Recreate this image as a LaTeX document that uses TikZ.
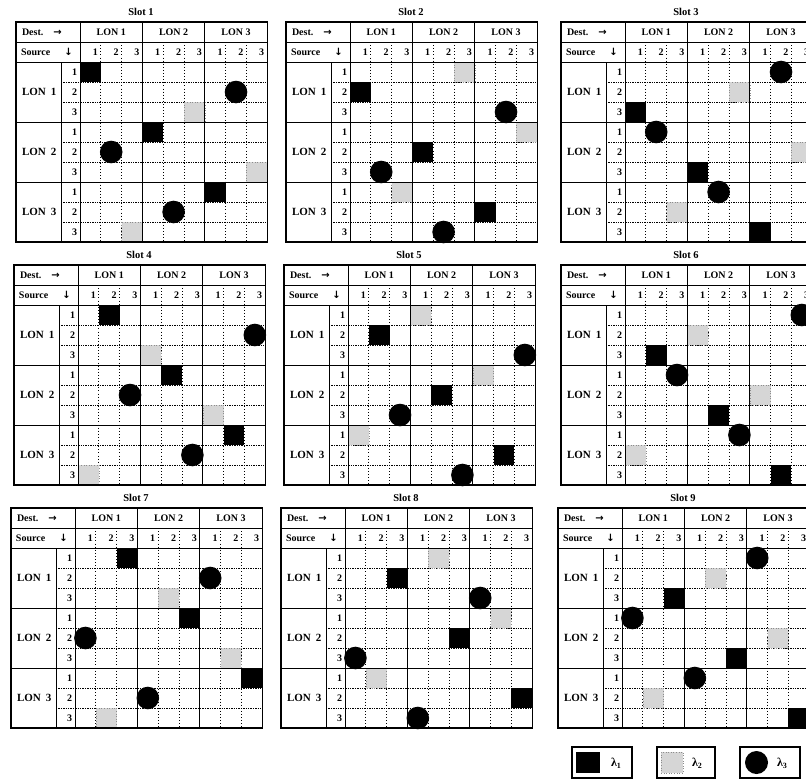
\documentclass[tikz,border=0pt]{standalone}
\usepackage{fontspec}
\setmainfont{Liberation Serif}
\newfontfamily\arrowfont{DejaVu Sans}
\newcommand\slottab[6]{%
\begin{scope}[shift={(#1,#2)}]
  \node[ttl] (t#3) at (125,-10) {Slot #3};
  \foreach \yy in {60,80,120,140,180,200} \draw[hdot] (45,\yy) -- (251.2,\yy);
  \foreach \k in {1,2,4,5,7,8} \draw[vdot] ({64+\k*20.8},20) -- ({64+\k*20.8},220);
  \foreach \r/\c in {#4} \fill[sqmark] ({64+\c*20.8},{40+\r*20}) rectangle ++(20.8,20);
  \foreach \r/\c in {#5} \draw[dtmark] ({64+\c*20.8},{40+\r*20}) rectangle ++(20.8,20);
  \foreach \r/\c in {#6} \fill[cimark] ({74.4+\c*20.8},{50+\r*20}) circle[radius=11.3pt];
  \draw[solidln] (0,20) -- (251.2,20);
  \draw[solidln] (0,40) -- (251.2,40);
  \draw[solidln] (0,100) -- (251.2,100);
  \draw[solidln] (0,160) -- (251.2,160);
  \draw[solidln] (45,40) -- (45,220);
  \draw[solidln] (64,0) -- (64,220);
  \draw[solidln] (126.4,0) -- (126.4,220);
  \draw[solidln] (188.8,0) -- (188.8,220);
  \draw[outerln] (0,0) rectangle (251.2,220);
  \node[tx, anchor=west] (d#3) at (6,10) {Dest.\hspace{10pt}{\arrowfont\bfseries →}};
  \node[tx, anchor=west] (s#3) at (5,30) {Source\hspace{14pt}{\arrowfont\bfseries ↓}};
  \foreach \g in {1,2,3} \node[tx] (h#3-\g) at ({64+(3*\g-1.5)*20.8},10) {LON \g};
  \foreach \k in {0,...,8} {\pgfmathtruncatemacro\n{mod(\k,3)+1}
    \node[tx,anchor=east] (c#3-\k) at ({64+(\k+1)*20.8-3},30) {\n};}
  \foreach \k in {0,...,8} {\pgfmathtruncatemacro\n{mod(\k,3)+1}
    \node[tx,anchor=east] (r#3-\k) at (61,{50+\k*20}) {\n};}
  \foreach \g in {1,2,3} \node[lbl] (l#3-\g) at (6,{50+(3*\g-2)*20}) {LON\hspace{5pt}\g};
\end{scope}}
\begin{document}
\begin{tikzpicture}[x=1pt,y=-1pt,
  every node/.style={inner sep=0pt, outer sep=0pt},
  ttl/.style={font=\fontsize{10.5}{12}\selectfont\bfseries},
  tx/.style={font=\fontsize{10}{11}\selectfont\bfseries},
  lgt/.style={font=\fontsize{12}{14}\selectfont\bfseries, anchor=west},
  lbl/.style={font=\fontsize{11}{12}\selectfont\bfseries, anchor=west},
  solidln/.style={line width=0.9pt},
  outerln/.style={line width=1.4pt},
  hdot/.style={line width=0.9pt, dash pattern=on 1.3pt off 1.1pt},
  vdot/.style={line width=0.9pt, dash pattern=on 0.9pt off 2.2pt},
  sqmark/.style={fill=black},
  dtmark/.style={fill=black!16, draw=black!45, dotted, line width=0.6pt},
  cimark/.style={fill=black},
  legbox/.style={draw, line width=1.4pt, minimum width=60pt, minimum height=31pt},
]
\useasboundingbox (0,0) rectangle (806,779);
\clip (0,0) rectangle (806,779);
\fill[white] (0,0) rectangle (806,779);

\slottab{16}{22}{1}{0/0,3/3,6/6}{2/5,5/8,8/2}{1/7,4/1,7/4}
\slottab{286}{22}{2}{1/0,4/3,7/6}{0/5,3/8,6/2}{2/7,5/1,8/4}
\slottab{561}{22}{3}{2/0,5/3,8/6}{1/5,4/8,7/2}{0/7,3/1,6/4}
\slottab{14}{265}{4}{0/1,3/4,6/7}{2/3,5/6,8/0}{1/8,4/2,7/5}
\slottab{284}{265}{5}{1/1,4/4,7/7}{0/3,3/6,6/0}{2/8,5/2,8/5}
\slottab{561}{265}{6}{2/1,5/4,8/7}{1/3,4/6,7/0}{0/8,3/2,6/5}
\slottab{11}{508}{7}{0/2,3/5,6/8}{2/4,5/7,8/1}{1/6,4/0,7/3}
\slottab{281}{508}{8}{1/2,4/5,7/8}{0/4,3/7,6/1}{2/6,5/0,8/3}
\slottab{558}{508}{9}{2/2,5/5,8/8}{1/4,4/7,7/1}{0/6,3/0,6/3}

% legend
\node[legbox] (b1) at (602,762.5) {};
\node[fill=black, minimum width=24pt, minimum height=21pt] (k1) at (588,762.5) {};
\node[lgt] (k1t) at (611,763) {λ\textsubscript{1}};
\node[legbox, minimum width=58pt] (b2) at (686,762.5) {};
\node[dtmark, minimum width=22pt, minimum height=21pt] (k2) at (672,762.5) {};
\node[lgt] (k2t) at (692,763) {λ\textsubscript{2}};
\node[legbox] (b3) at (770,762.5) {};
\node[circle, fill=black, minimum size=23pt] (k3) at (756.5,762.5) {};
\node[lgt] (k3t) at (777,763) {λ\textsubscript{3}};
\end{tikzpicture}
\end{document}
